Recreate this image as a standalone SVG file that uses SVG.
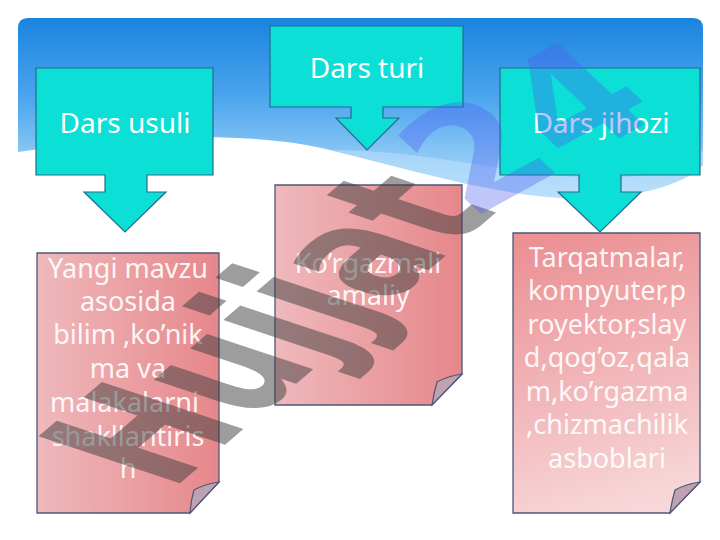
<svg xmlns="http://www.w3.org/2000/svg" width="720" height="540" viewBox="0 0 720 540">
<defs>
<linearGradient id="sky" x1="0" y1="18" x2="0" y2="200" gradientUnits="userSpaceOnUse">
<stop offset="0" stop-color="#1a84de"/>
<stop offset="0.45" stop-color="#4ea6ee"/>
<stop offset="0.8" stop-color="#94ccf6"/>
<stop offset="1" stop-color="#b4defa"/>
</linearGradient>
<linearGradient id="docH" x1="0" y1="0" x2="1" y2="0">
<stop offset="0" stop-color="#efb9bc"/>
<stop offset="1" stop-color="#e6878a"/>
</linearGradient>
<linearGradient id="docV" x1="0.3" y1="0" x2="0.5" y2="1">
<stop offset="0" stop-color="#eb9194"/>
<stop offset="1" stop-color="#f7d7d9"/>
</linearGradient>
<style>
.callout{fill:#0bdfd6;stroke:#276a8c;stroke-width:1.2}
.doc{stroke:#4b5878;stroke-width:1.3}
.flap{fill:#bea2b0;stroke:#4b5878;stroke-width:1.2}
.head{font-family:"Noto Sans","DejaVu Sans",sans-serif;font-size:28px;fill:#ffffff;text-anchor:middle}
.body{font-family:"Noto Sans","DejaVu Sans",sans-serif;font-size:27px;fill:#ffffff;fill-opacity:0.93;text-anchor:middle}
.wm{font-family:"DejaVu Sans",sans-serif;font-weight:bold}
</style>
</defs>
<rect width="720" height="540" fill="#ffffff"/>
<g id="background">
<path d="M18,152 L18,28 Q18,18 28,18 L693,18 Q703,18 703,28 L703,165 C690,180 650,195 600,198 C520,203 420,172 330,150 C250,130 130,136 18,152 Z" fill="url(#sky)"/>
<path d="M330,150 C420,172 520,203 600,198 C650,195 690,180 703,165 L703,150 C680,170 640,180 590,178 C510,175 430,150 330,150 Z" fill="#c2e4fb" fill-opacity="0.5"/>
</g>
<g id="connectors"></g>
<g id="dars-usuli">
<path class="callout" d="M36,68 H213 V175 H147 V192 H166 L125,232 L84,192 H105 V175 H36 Z"/>
<text class="head" x="125" y="133">Dars usuli</text>
</g>
<g id="dars-turi">
<path class="callout" d="M270,26 H463 V107 H383 V118 H399 L367,150 L336,118 H351 V107 H270 Z"/>
<text class="head" x="367" y="78">Dars turi</text>
</g>
<g id="dars-jihozi">
<path class="callout" d="M500,68 H700 V175 H621 V192 H641 L600,232 L558,192 H579 V175 H500 Z"/>
<text class="head" x="601" y="133">Dars jihozi</text>
</g>
<g id="doc-usul">
<path class="doc" fill="url(#docH)" d="M37,253 H219 V482 L190,513 H37 Z"/>
<path class="flap" d="M219,482 Q205,484 194,490 Q191,500 190,513 Z"/>
<text class="body"><tspan x="128" y="278">Yangi mavzu</tspan><tspan x="128" y="311">asosida</tspan><tspan x="128" y="344">bilim ,ko’nik</tspan><tspan x="128" y="378">ma va</tspan><tspan x="128" y="412">malakalarni </tspan><tspan x="128" y="446">shakllantiris</tspan><tspan x="128" y="478">h</tspan></text>
</g>
<g id="doc-turi">
<path class="doc" fill="url(#docH)" d="M275,185 H462 V374 L432,405 H275 Z"/>
<path class="flap" d="M462,374 Q448,376 437,382 Q434,392 432,405 Z"/>
<text class="body"><tspan x="368" y="273">Ko’rgazmali</tspan><tspan x="368" y="305">amaliy</tspan></text>
</g>
<g id="doc-jihoz">
<path class="doc" fill="url(#docV)" d="M513,233 H700 V482 L670,513 H513 Z"/>
<path class="flap" d="M700,482 Q686,484 675,490 Q672,500 670,513 Z"/>
<text class="body"><tspan x="607" y="267">Tarqatmalar,</tspan><tspan x="607" y="300">kompyuter,p</tspan><tspan x="607" y="334">royektor,slay</tspan><tspan x="607" y="367">d,qog’oz,qala</tspan><tspan x="607" y="401">m,ko’rgazma</tspan><tspan x="607" y="434">,chizmachilik</tspan><tspan x="607" y="468">asboblari</tspan></text>
</g>
<g id="watermark">
<text class="wm" transform="matrix(0.735,-0.63,1.47,0.49,171,491)" font-size="132" fill="#3c3c3c" fill-opacity="0.5">Hujjat</text>
<text class="wm" transform="matrix(1.0,-0.55,0.85,0.8,470,220)" font-size="140" fill="#4a5cf0" fill-opacity="0.35">24</text>
</g>
</svg>
